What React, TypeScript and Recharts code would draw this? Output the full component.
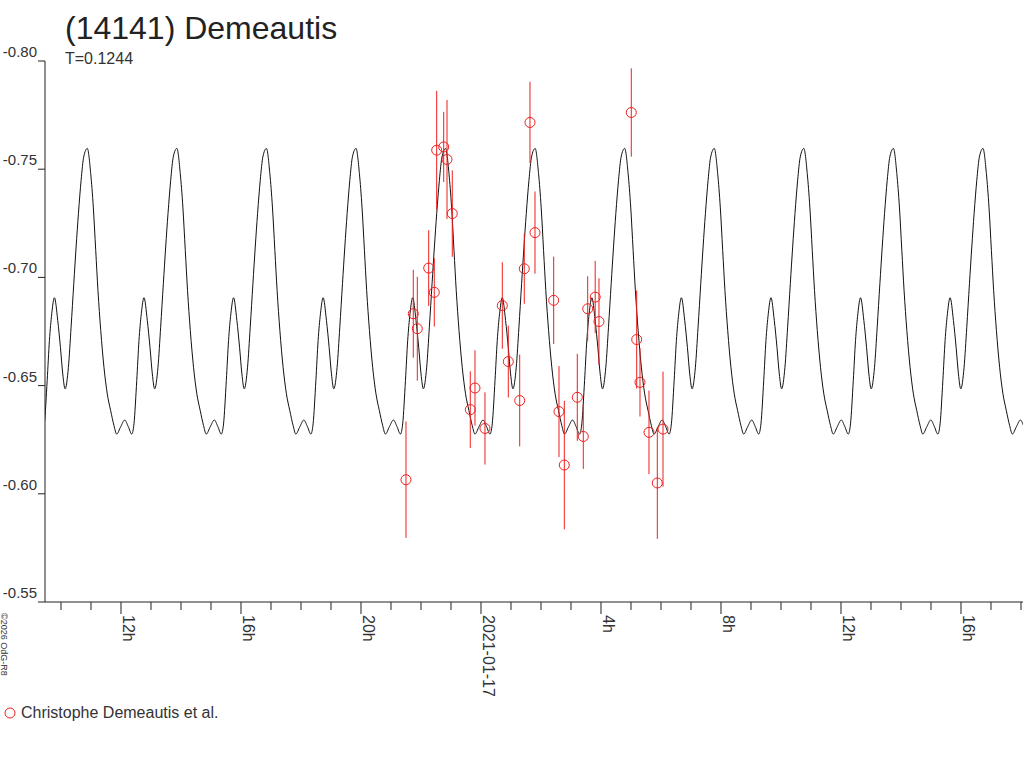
import React from "react";
import {
  ComposedChart,
  Line,
  Scatter,
  ErrorBar,
  XAxis,
  YAxis,
} from "recharts";

// hours relative to 2021-01-17 00:00 UT
const X_MIN = -14.533;
const X_MAX = 18.067;

const PERIOD_HOURS = 0.1244 * 24;
const EPOCH_HOURS = -13.123; // a main maximum of the model curve

// one cycle of the model curve (phase 0..1)
const PROFILE_PHASE = [
  0, 0.038, 0.067, 0.094, 0.119, 0.15, 0.186, 0.223, 0.261, 0.298, 0.328,
  0.373, 0.418, 0.458, 0.496, 0.521, 0.552, 0.577, 0.603, 0.633, 0.67, 0.7,
  0.726, 0.752, 0.789, 0.819, 0.849, 0.875, 0.901, 0.931, 0.96,
];
const PROFILE_MAG = [
  -0.7596, -0.748, -0.7325, -0.7125, -0.694, -0.6755, -0.6585, -0.6462,
  -0.6384, -0.6315, -0.6276, -0.631, -0.6341, -0.631, -0.6276, -0.6323,
  -0.6523, -0.6708, -0.6832, -0.6906, -0.6801, -0.6677, -0.6554, -0.6485,
  -0.6585, -0.677, -0.6971, -0.714, -0.7295, -0.7449, -0.7557,
];

// observations
const OBS_T = [
  -2.5, -2.257, -2.123, -1.743, -1.557, -1.477, -1.243, -1.133, -0.957, -0.357,
  -0.2, 0.133, 0.71, 0.91, 1.29, 1.443, 1.633, 1.8, 2.423, 2.6, 2.777, 3.21,
  3.41, 3.557, 3.807, 3.933, 5.01, 5.19, 5.3, 5.6, 5.877, 6.067,
];
const OBS_MAG = [
  -0.6065, -0.6832, -0.6763, -0.7043, -0.6931, -0.7588, -0.7603, -0.7545,
  -0.7295, -0.6389, -0.6489, -0.6302, -0.687, -0.6611, -0.6431, -0.704,
  -0.7716, -0.7207, -0.6894, -0.638, -0.6133, -0.6446, -0.6265, -0.6855,
  -0.6909, -0.6796, -0.7762, -0.6713, -0.6515, -0.6284, -0.605, -0.6299,
];
const OBS_ERR = [
  0.0269, 0.0203, 0.024, 0.0175, 0.0158, 0.0274, 0.0162, 0.0275, 0.02, 0.0177,
  0.0174, 0.0167, 0.02, 0.0166, 0.0212, 0.0162, 0.0188, 0.019, 0.0202, 0.021,
  0.0297, 0.0201, 0.015, 0.015, 0.0167, 0.02, 0.0204, 0.0227, 0.0158, 0.0193,
  0.0258, 0.0266,
];

const Y_TICKS = [-0.8, -0.75, -0.7, -0.65, -0.6, -0.55];
const HOUR_TICKS = [
  -14, -13, -12, -11, -10, -9, -8, -7, -6, -5, -4, -3, -2, -1, 0, 1, 2, 3, 4,
  5, 6, 7, 8, 9, 10, 11, 12, 13, 14, 15, 16, 17, 18,
];
const LABEL_HOURS = [-12, -8, -4, 0, 4, 8, 12, 16];
const LABEL_TEXTS = ["12h", "16h", "20h", "2021-01-17", "4h", "8h", "12h", "16h"];

const FONT = "'Liberation Sans', Arial, sans-serif";
const INK = "#222";
const RED = "#f01e1e";
const AXIS_Y = 602;

// repeat the read cycle over the time span
const modelData: { t: number; mag: number }[] = [];
for (let k = -1; k <= 11; k++) {
  PROFILE_PHASE.forEach((p, i) => {
    const t = EPOCH_HOURS + (k + p) * PERIOD_HOURS;
    if (t > X_MIN - 1 && t < X_MAX + 1) modelData.push({ t, mag: PROFILE_MAG[i] });
  });
}

const obsData = OBS_T.map((t, i) => ({ t, mag: OBS_MAG[i], err: OBS_ERR[i] }));

const YTick = ({ y, payload }: any) => (
  <text x={37} y={y - 4} textAnchor="end" fontSize={15} fill="#333" fontFamily={FONT}>
    {Number(payload.value).toFixed(2)}
  </text>
);

const XTick = ({ x, payload }: any) => {
  const idx = LABEL_HOURS.indexOf(payload.value);
  const major = idx >= 0;
  return (
    <g>
      <line x1={x} x2={x} y1={AXIS_Y} y2={AXIS_Y + (major ? 12 : 8)} stroke={INK} />
      {major && (
        <text
          transform={`translate(${x + 2}, 615) rotate(90)`}
          textAnchor="start"
          fontSize={16}
          fill="#333"
          fontFamily={FONT}
        >
          {LABEL_TEXTS[idx]}
        </text>
      )}
    </g>
  );
};

const Ring = ({ cx, cy }: any) => (
  <circle cx={cx} cy={cy} r={5} fill="none" stroke={RED} strokeWidth={1} />
);

export default function App() {
  return (
    <div style={{ position: "absolute", left: 0, top: 0, width: 1024, height: 768, background: "#fff" }}>
      <ComposedChart
        width={1024}
        height={768}
        margin={{ top: 61, right: 1, bottom: 0, left: 0 }}
      >
        <XAxis
          type="number"
          dataKey="t"
          domain={[X_MIN, X_MAX]}
          ticks={HOUR_TICKS}
          allowDataOverflow
          height={166}
          tickLine={false}
          axisLine={{ stroke: INK }}
          tick={<XTick />}
          interval={0}
        />
        <YAxis
          type="number"
          domain={[-0.8, -0.55]}
          ticks={Y_TICKS}
          reversed
          width={45}
          tickSize={7}
          tickLine={{ stroke: INK }}
          axisLine={{ stroke: INK }}
          tick={<YTick />}
          interval={0}
        />
        <Line
          data={modelData}
          dataKey="mag"
          type="monotone"
          stroke="#111"
          strokeWidth={1}
          dot={false}
          isAnimationActive={false}
        />
        <Scatter data={obsData} dataKey="mag" shape={<Ring />} isAnimationActive={false}>
          <ErrorBar dataKey="err" direction="y" width={0} stroke={RED} strokeWidth={1} />
        </Scatter>
      </ComposedChart>
      <svg
        width={1024}
        height={768}
        style={{ position: "absolute", left: 0, top: 0, pointerEvents: "none" }}
        fontFamily={FONT}
      >
        <text x={65} y={39} fontSize={32} fill={INK}>
          (14141) Demeautis
        </text>
        <text x={65} y={64} fontSize={16} fill="#333">
          T=0.1244
        </text>
        <text transform="translate(1, 613) rotate(90)" fontSize={9} fill="#333">
          ©2026 OdG-R8
        </text>
        <circle cx={10} cy={713} r={5} fill="none" stroke={RED} />
        <text x={21} y={718} fontSize={16} fill="#333">
          Christophe Demeautis et al.
        </text>
      </svg>
    </div>
  );
}
